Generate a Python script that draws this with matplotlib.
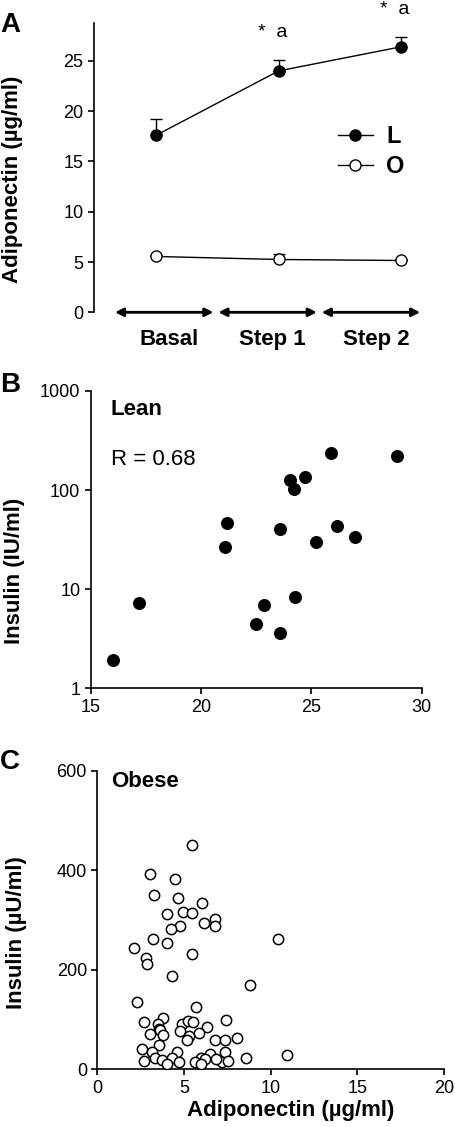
import matplotlib.pyplot as plt
from matplotlib.lines import Line2D

plt.rcParams['font.family'] = ['Liberation Sans', 'DejaVu Sans']

# Panel A: adiponectin across clamp steps
steps = ['Basal', 'Step 1', 'Step 2']
lean_mean = [17.6, 24.0, 26.4]
lean_err = [1.6, 1.1, 1.0]
obese_mean = [5.55, 5.25, 5.15]
obese_err = [0.15, 0.5, 0.1]
sig_labels = ['', '*  a', '*  a']

# Panel B: lean subjects
lean_adipo = [16.0, 17.2, 21.1, 21.2, 22.5, 22.85, 23.6, 23.6, 24.05, 24.2, 24.25,
              24.7, 25.2, 25.9, 26.15, 27.0, 28.9]
lean_insulin = [1.95, 7.2, 26.5, 46, 4.4, 6.9, 40.5, 3.6, 125, 102, 8.4,
                137, 30, 237, 43.5, 33.5, 221]

# Panel C: obese subjects
obese_adipo = [5.46, 3.04, 4.5, 3.27, 4.65, 6.04, 4.0, 4.96, 5.46, 6.79,
               6.15, 6.77, 4.77, 4.25, 3.19, 4.0, 10.42, 2.13, 2.79, 2.85,
               5.46, 4.31, 8.81, 2.29, 5.67, 3.77, 2.69, 7.42, 3.5, 4.87,
               5.21, 5.54, 6.35, 3.54, 3.62, 4.77, 5.88, 3.04, 3.77, 5.29,
               5.15, 6.79, 7.38, 8.06, 3.54, 2.56, 3.17, 4.62, 6.5, 7.38,
               10.96, 3.31, 4.29, 6.0, 6.23, 8.58, 2.69, 3.73, 4.73, 4.0,
               5.63, 5.96, 7.19, 7.54, 6.83]
obese_insulin = [452, 393, 382, 351, 345, 334, 312, 317, 314, 302,
                 294, 288, 288, 282, 263, 255, 263, 243, 224, 212,
                 232, 187, 170, 135, 125, 103, 96, 99, 91, 92,
                 97, 96, 85, 82, 79, 77, 74, 70, 68, 66,
                 59, 59, 59, 62, 49, 40, 34, 34, 31, 34,
                 29, 22, 23, 22, 21, 22, 17, 19, 14, 11,
                 14, 11, 14, 17, 21]

TICK = 13
LAB = 16

fig = plt.figure(figsize=(4.55, 11.27), dpi=100)

# ---- A ----
axA = fig.add_axes([0.2066, 0.7229, 0.7209, 0.2570])
xpos = [0, 1, 2]
axA.errorbar(xpos, lean_mean, yerr=[[0, 0, 0], lean_err], fmt='-o', color='black',
             mfc='black', mec='black', ms=8, lw=1, capsize=4, elinewidth=1, zorder=3)
axA.errorbar(xpos, obese_mean, yerr=[[0, 0, 0], obese_err], fmt='-o', color='black',
             mfc='white', mec='black', ms=8, lw=1, capsize=4, elinewidth=1, zorder=3)
axA.set_xlim(-0.506, 2.17)
axA.set_ylim(0, 28.8)
axA.set_yticks([0, 5, 10, 15, 20, 25])
axA.set_xticks([])
for s in ['top', 'right', 'bottom']:
    axA.spines[s].set_visible(False)
axA.spines['left'].set_linewidth(1.2)
axA.tick_params(axis='y', direction='out', length=4, width=1.2, labelsize=TICK)
axA.set_ylabel('Adiponectin (µg/ml)', fontsize=LAB, fontweight='bold')
axA.yaxis.set_label_coords(-0.216, 0.46)

edges = [(-0.335, 0.468), (0.509, 1.312), (1.352, 2.155)]
for (a, b), lab in zip(edges, steps):
    axA.annotate('', xy=(b, 0), xytext=(a, 0), annotation_clip=False,
                 arrowprops=dict(arrowstyle='<|-|>', color='black', lw=2,
                                 mutation_scale=12, shrinkA=0, shrinkB=0))
    axA.text((a + b) / 2 + 0.04, -2.75, lab, ha='center', va='center',
             fontsize=LAB, fontweight='bold', clip_on=False)
for x, m, e, s in zip(xpos, lean_mean, lean_err, sig_labels):
    if s:
        axA.text(x - 0.05, m + e + 2.75, s, ha='center', va='center', fontsize=14,
                 clip_on=False)
handles = [Line2D([], [], color='black', lw=1, marker='o', ms=8, mfc='black', mec='black'),
           Line2D([], [], color='black', lw=1, marker='o', ms=8, mfc='white', mec='black')]
axA.legend(handles, ['L', 'O'], loc='center', bbox_to_anchor=(0.845, 0.555),
           frameon=False, prop={'weight': 'bold', 'size': 17},
           handlelength=1.5, labelspacing=0.3, handletextpad=0.55)
fig.text(0.0, 0.978, 'A', fontsize=20, fontweight='bold', va='center')

# ---- B ----
axB = fig.add_axes([0.1993, 0.3893, 0.7275, 0.2638])
axB.scatter(lean_adipo, lean_insulin, s=70, color='black', zorder=3)
axB.set_yscale('log')
axB.set_xlim(15, 30)
axB.set_ylim(1, 1000)
axB.set_xticks([15, 20, 25, 30])
axB.set_yticks([1, 10, 100, 1000])
axB.set_yticklabels(['1', '10', '100', '1000'])
axB.minorticks_off()
for s in ['top', 'right']:
    axB.spines[s].set_visible(False)
for s in ['left', 'bottom']:
    axB.spines[s].set_linewidth(1.2)
axB.tick_params(direction='out', length=4, width=1.2, labelsize=TICK)
axB.set_ylabel('Insulin (IU/ml)', fontsize=LAB, fontweight='bold')
axB.yaxis.set_label_coords(-0.198, 0.395)
axB.text(0.061, 0.939, 'Lean', transform=axB.transAxes, fontsize=LAB, fontweight='bold',
         va='center')
axB.text(0.061, 0.768, 'R = 0.68', transform=axB.transAxes, fontsize=LAB, va='center')
fig.text(0.0, 0.658, 'B', fontsize=20, fontweight='bold', va='center')

# ---- C ----
axC = fig.add_axes([0.2139, 0.0512, 0.7619, 0.2647])
axC.scatter(obese_adipo, obese_insulin, s=55, facecolor='white', edgecolor='black',
            linewidth=1.1, zorder=3)
axC.set_xlim(0, 20)
axC.set_ylim(0, 600)
axC.set_xticks([0, 5, 10, 15, 20])
axC.set_yticks([0, 200, 400, 600])
for s in ['top', 'right']:
    axC.spines[s].set_visible(False)
for s in ['left', 'bottom']:
    axC.spines[s].set_linewidth(1.2)
axC.tick_params(direction='out', length=4, width=1.2, labelsize=TICK)
axC.set_ylabel('Insulin (µU/ml)', fontsize=LAB, fontweight='bold')
axC.yaxis.set_label_coords(-0.203, 0.46)
axC.set_xlabel('Adiponectin (µg/ml)', fontsize=LAB, fontweight='bold')
axC.xaxis.set_label_coords(0.559, -0.103)
axC.text(0.04, 0.964, 'Obese', transform=axC.transAxes, fontsize=LAB,
         fontweight='bold', va='center')
fig.text(0.0, 0.324, 'C', fontsize=20, fontweight='bold', va='center')

fig.savefig('out.png', dpi=100)
